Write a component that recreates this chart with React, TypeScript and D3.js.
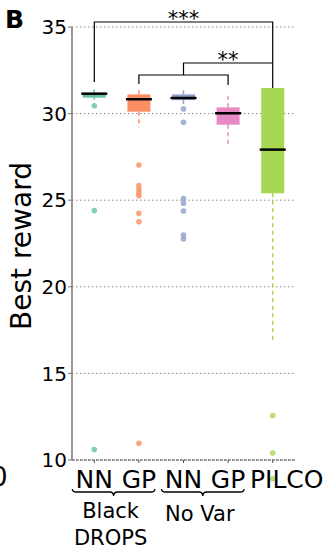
import React from "react";
import * as d3 from "d3";

// category labels, in plot order
const categories = ["NN", "GP", "NN", "GP", "PILCO"];
const colors = ["#66c2a5", "#fc8d62", "#8da0cb", "#e78ac3", "#a6d854"];

// box statistics
const whiskerHigh = [31.4, 31.4, 31.4, 31.17, 31.48];
const q3 = [31.2, 31.11, 31.11, 30.36, 31.48];
const median = [31.15, 30.83, 30.9, 30.02, 27.92];
const q1 = [30.92, 30.11, 30.78, 29.36, 25.4];
const whiskerLow = [30.8, 29.21, 30.5, 28.05, 16.93];
const outliers = [
  [30.45, 24.4, 10.6],
  [27.03, 25.84, 25.63, 25.43, 25.26, 24.24, 23.76, 10.96],
  [30.27, 29.5, 25.1, 24.82, 24.38, 22.99, 22.76],
  [],
  [12.56, 10.4, 8.92],
];

const yTicks = [10, 15, 20, 25, 30, 35];
const groups = [
  { label: ["Black", "DROPS"], from: 0, to: 1 },
  { label: ["No Var"], from: 2, to: 3 },
];

export default function App() {
  const w = 326;
  const h = 547;
  const left = 72;
  const right = 295;

  const x = d3
    .scalePoint<number>()
    .domain(categories.map((c, i) => i))
    .range([left, right])
    .padding(0.5);
  const y = d3.scaleLinear().domain([10, 35]).range([460, 27]);

  const boxW = 23;
  const font = "DejaVu Sans, sans-serif";

  // curly brace opening upward
  const brace = (x0: number, x1: number, top: number) => {
    const mid = (x0 + x1) / 2;
    const r = 4;
    const y1 = top + 3;
    const y2 = top + 7;
    return `M${x0},${top} Q${x0},${y1} ${x0 + r},${y1} L${mid - r},${y1} Q${mid},${y1} ${mid},${y2} Q${mid},${y1} ${mid + r},${y1} L${x1 - r},${y1} Q${x1},${y1} ${x1},${top}`;
  };

  const xs = (i: number) => x(i) as number;

  return (
    <svg
      width={w}
      height={h}
      style={{ position: "absolute", left: 0, top: 0 }}
      fontFamily={font}
    >
      <rect width={w} height={h} fill="#fff" />

      {/* panel letter */}
      <text x={5} y={28} fontSize={25} fontWeight="bold">
        B
      </text>
      {/* leftover tick from neighbour panel */}
      <text x={7.5} y={486} fontSize={26} textAnchor="end">
        0
      </text>

      {/* grid */}
      {yTicks.map((t) => (
        <line
          key={t}
          x1={left}
          x2={right}
          y1={y(t)}
          y2={y(t)}
          stroke="#888"
          strokeWidth={1}
          strokeDasharray="1.5,2.5"
        />
      ))}

      {/* bottom axis */}
      <line
        x1={left}
        x2={right}
        y1={y(10)}
        y2={y(10)}
        stroke="#555"
        strokeWidth={1}
        strokeDasharray="3,1"
      />
      {categories.map((c, i) => (
        <line
          key={i}
          x1={xs(i)}
          x2={xs(i)}
          y1={y(10)}
          y2={y(10) + 3}
          stroke="#555"
        />
      ))}

      {/* left spine and ticks */}
      <line x1={left} x2={left} y1={y(35)} y2={y(10)} stroke="#777" strokeWidth={1.5} />
      {yTicks.map((t) => (
        <g key={t}>
          <line x1={left - 4} x2={left} y1={y(t)} y2={y(t)} stroke="#777" />
          <text
            x={67}
            y={y(t)}
            dy="0.36em"
            fontSize={20}
            textAnchor="end"
          >
            {t}
          </text>
        </g>
      ))}

      <text
        transform={`translate(31,246) rotate(-90)`}
        fontSize={28}
        textAnchor="middle"
      >
        Best reward
      </text>

      {/* boxes */}
      {categories.map((c, i) => {
        const cx = xs(i);
        return (
          <g key={i}>
            <line
              x1={cx}
              x2={cx}
              y1={y(q3[i])}
              y2={y(whiskerHigh[i])}
              stroke={colors[i]}
              strokeWidth={1.5}
              strokeDasharray="4,3.5"
            />
            <line
              x1={cx}
              x2={cx}
              y1={y(q1[i])}
              y2={y(whiskerLow[i])}
              stroke={colors[i]}
              strokeWidth={1.5}
              strokeDasharray="4,3.5"
            />
            <rect
              x={cx - boxW / 2}
              y={y(q3[i])}
              width={boxW}
              height={y(q1[i]) - y(q3[i])}
              fill={colors[i]}
            />
            <line
              x1={cx - boxW / 2 - 1.5}
              x2={cx + boxW / 2 + 1.5}
              y1={y(median[i])}
              y2={y(median[i])}
              stroke="#000"
              strokeWidth={2.5}
            />
            {outliers[i].map((v, j) => (
              <circle
                key={j}
                cx={cx}
                cy={y(v)}
                r={2.8}
                fill={colors[i]}
                fillOpacity={0.8}
              />
            ))}
          </g>
        );
      })}

      {/* significance brackets */}
      <g stroke="#000" strokeWidth={1.2} fill="none">
        <path d={`M${xs(0)},82 V22 H${xs(4)} V88`} />
        <path d={`M${xs(2)},75 V63 H${xs(4)}`} />
        <path d={`M${xs(1)},84 V75 H${xs(3)} V85`} />
      </g>
      <text x={(xs(0) + xs(4)) / 2} y={26} fontSize={21} textAnchor="middle">
        ***
      </text>
      <text x={(xs(2) + xs(4)) / 2} y={67} fontSize={21} textAnchor="middle">
        **
      </text>

      {/* category labels */}
      {categories.map((c, i) => (
        <text
          key={i}
          x={xs(i) + (i === 4 ? 14 : 0)}
          y={488}
          fontSize={25}
          textAnchor="middle"
        >
          {c}
        </text>
      ))}

      {/* group braces */}
      {groups.map((g, k) => {
        const x0 = xs(g.from) - 22;
        const x1 = xs(g.to) + 16;
        const mid = (x0 + x1) / 2;
        return (
          <g key={k}>
            <path d={brace(x0, x1, 489)} stroke="#000" strokeWidth={1.3} fill="none" />
            {g.label.map((l, j) => (
              <text
                key={j}
                x={mid - 3}
                y={(k === 0 ? 518 : 521) + j * 27}
                fontSize={21}
                textAnchor="middle"
              >
                {l}
              </text>
            ))}
          </g>
        );
      })}
    </svg>
  );
}
